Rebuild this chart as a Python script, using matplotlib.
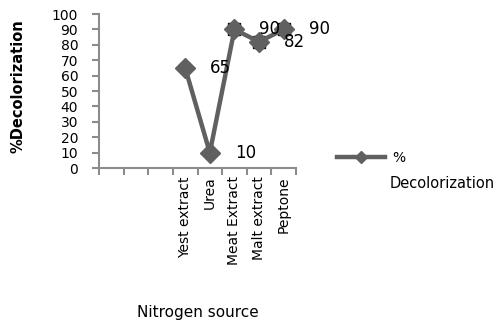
import matplotlib
matplotlib.use("Agg")
import matplotlib.pyplot as plt

# categories on the x axis (the first three slots are empty in the original chart)
sources = ["", "", "", "Yest extract", "Urea", "Meat Extract", "Malt extract", "Peptone"]
decolorization = [None, None, None, 65, 10, 90, 82, 90]
y_ticks = list(range(0, 101, 10))

line_color = "#606060"
axis_color = "#8c8c8c"

plt.rcParams['font.family'] = ['DejaVu Sans']

fig = plt.figure(figsize=(5.0, 3.27), dpi=100)
ax = fig.add_axes([0.198, 0.486, 0.394, 0.471])

xs = [i for i, v in enumerate(decolorization) if v is not None]
ys = [v for v in decolorization if v is not None]

# faint black squares that show behind some markers in the original
ax.plot(xs[2:], ys[2:], linestyle="none", marker="s", markersize=9,
        color="black", zorder=2)
ax.plot(xs, ys, color=line_color, linewidth=3.2, marker="D", markersize=10,
        markeredgecolor=line_color, zorder=3, label="%")

for x, y in zip(xs, ys):
    ax.annotate(str(y), (x, y), xytext=(18, 0), textcoords="offset points",
                fontsize=12, va="center", ha="left", annotation_clip=False)

ax.set_xlim(-0.5, len(sources) - 0.5)
ax.set_ylim(0, 100)
ax.set_yticks(y_ticks)
ax.set_yticklabels([str(t) for t in y_ticks], fontsize=10)

# tick marks at category boundaries, labels at centres
ax.set_xticks([i - 0.5 for i in range(len(sources) + 1)])
ax.set_xticklabels([])
ax.set_xticks(range(len(sources)), minor=True)
ax.set_xticklabels(sources, minor=True, rotation=90, fontsize=10)
ax.tick_params(axis="x", which="minor", length=0, pad=6)
ax.tick_params(axis="x", which="major", length=5, color=axis_color, width=1.5)
ax.tick_params(axis="y", length=5, color=axis_color, width=1.5, pad=10)

for side in ["top", "right"]:
    ax.spines[side].set_visible(False)
for side in ["left", "bottom"]:
    ax.spines[side].set_color(axis_color)
    ax.spines[side].set_linewidth(1.5)

ax.set_ylabel("%Decolorization", fontsize=10.5, fontweight="bold")
ax.yaxis.set_label_coords(-0.375, 0.535)
fig.text(0.396, 0.045, "Nitrogen source", fontsize=11, ha="center", va="center")

leg = ax.legend(loc="center left", bbox_to_anchor=(0.648, 0.517),
                bbox_transform=fig.transFigure, frameon=False, fontsize=10,
                handlelength=3.5, markerscale=0.6, handletextpad=0.5)
fig.text(0.779, 0.44, "Decolorization", fontsize=10.5, ha="left", va="center")

fig.savefig("out.png", dpi=100)
